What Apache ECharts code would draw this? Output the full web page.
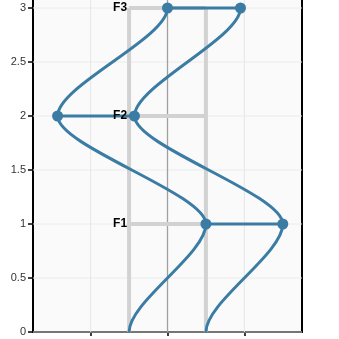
<!DOCTYPE html>
<html>
<head>
<meta charset="utf-8">
<script src="https://cdn.jsdelivr.net/npm/echarts@6/dist/echarts.min.js"></script>
<style>html,body{margin:0;padding:0;background:#fff;}#c{width:339px;height:339px;}</style>
</head>
<body>
<div id="c"></div>
<script>
const levels = ['F1', 'F2', 'F3'];
const levelY = [1, 2, 3];
const leftX = [0.5, -1.43, 0];
const rightX = [1.5, -0.43, 0.95];
const curveA = [[-0.5, 0], [0.5, 1], [-1.43, 2], [0, 3]];
const curveB = [[0.5, 0], [1.5, 1], [-0.43, 2], [0.95, 3]];
const ladderX = [-0.5, 0.5];
const yTicks = [0, 0.5, 1, 1.5, 2, 2.5, 3];
const xTicks = [-1, 0, 1];
const xGrid = [-1, 1];
const xZero = 0;
const X_MIN = -1.75, X_MAX = 1.75, Y_MIN = 0, Y_MAX = 3.074;

const BLUE = '#3b7ca4';

function segs(path) {
  const out = [];
  for (let i = 0; i < path.length - 1; i++) out.push([path[i][0], path[i][1], path[i + 1][0], path[i + 1][1]]);
  return out;
}
const curveSegs = segs(curveA).concat(segs(curveB));
const rungSegs = levelY.map((y, i) => [leftX[i], y, rightX[i], y]);
const ladderSegs = ladderX.map(x => [x, 0, x, 3]).concat(levelY.map(y => [ladderX[0], y, ladderX[1], y]));
const hGridSegs = yTicks.map(y => [X_MIN, y, X_MAX, y]);
const vGridSegs = xGrid.map(x => [x, Y_MIN, x, Y_MAX]);
const zeroSegs = [[xZero, Y_MIN, xZero, Y_MAX]];
const points = [];
levelY.forEach((y, i) => { points.push([leftX[i], y]); points.push([rightX[i], y]); });
const labelData = levelY.map((y, i) => [ladderX[0], y, levels[i]]);

function lineSeries(data, color, width, z) {
  return {
    type: 'custom', z: z, silent: true, data: data,
    encode: { x: [0, 2], y: [1, 3] },
    renderItem: function (params, api) {
      const p1 = api.coord([api.value(0), api.value(1)]);
      const p2 = api.coord([api.value(2), api.value(3)]);
      return { type: 'line', shape: { x1: p1[0], y1: p1[1], x2: p2[0], y2: p2[1] },
        style: { stroke: color, lineWidth: width } };
    }
  };
}

const option = {
  animation: false,
  grid: { left: 33, right: 37, top: 0, bottom: 7, show: true, backgroundColor: '#fafafa', borderWidth: 0 },
  xAxis: {
    type: 'value', min: X_MIN, max: X_MAX,
    axisLine: { show: true, onZero: false, lineStyle: { color: '#000', width: 2 } },
    axisTick: { show: true, length: 4, customValues: xTicks, lineStyle: { color: '#000', width: 1.5 } },
    axisLabel: { show: false },
    splitLine: { show: false }
  },
  yAxis: [{
    type: 'value', min: Y_MIN, max: Y_MAX,
    axisLine: { show: true, onZero: false, lineStyle: { color: '#000', width: 2 } },
    axisTick: { show: true, length: 5, customValues: yTicks, lineStyle: { color: '#000', width: 1.5 } },
    axisLabel: { customValues: yTicks, color: '#333', fontSize: 11, margin: 7, fontFamily: 'Liberation Sans, Arial, sans-serif' },
    splitLine: { show: false }
  }, {
    type: 'value', min: Y_MIN, max: Y_MAX, position: 'right',
    axisLine: { show: true, onZero: false, lineStyle: { color: '#000', width: 2 } },
    axisTick: { show: false }, axisLabel: { show: false }, splitLine: { show: false }
  }],
  series: [
    lineSeries(hGridSegs, '#ebebeb', 1, 1),
    lineSeries(vGridSegs, '#e6e6e6', 1, 1),
    lineSeries(zeroSegs, '#a0a0a0', 1.3, 2),
    lineSeries(ladderSegs, '#d2d2d2', 4, 3),
    lineSeries(rungSegs, BLUE, 3, 5),
    {
      type: 'custom', z: 5, silent: true, data: curveSegs,
      encode: { x: [0, 2], y: [1, 3] },
      renderItem: function (params, api) {
        const p1 = api.coord([api.value(0), api.value(1)]);
        const p2 = api.coord([api.value(2), api.value(3)]);
        const dy = p2[1] - p1[1];
        return { type: 'bezierCurve',
          shape: { x1: p1[0], y1: p1[1], x2: p2[0], y2: p2[1],
            cpx1: p1[0], cpy1: p1[1] + dy * 0.28, cpx2: p2[0], cpy2: p2[1] - dy * 0.28 },
          style: { stroke: BLUE, lineWidth: 3, fill: null } };
      }
    },
    {
      type: 'scatter', z: 6, silent: true, data: points, symbolSize: 11,
      itemStyle: { color: BLUE, opacity: 1 }
    },
    {
      type: 'custom', z: 7, silent: true, data: labelData,
      encode: { x: 0, y: 1 },
      renderItem: function (params, api) {
        const p = api.coord([api.value(0), api.value(1)]);
        return { type: 'text', x: p[0] - 2, y: p[1],
          style: { text: labelData[params.dataIndex][2], fill: '#000', fontSize: 12, fontWeight: 'bold',
            fontFamily: 'Liberation Sans, Arial, sans-serif', align: 'right', verticalAlign: 'middle' } };
      }
    }
  ]
};
echarts.init(document.getElementById('c')).setOption(option);
</script>
</body>
</html>
